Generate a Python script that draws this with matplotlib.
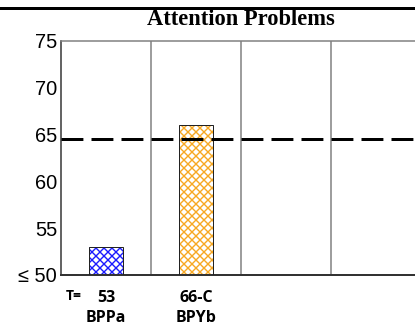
import matplotlib.pyplot as plt
from matplotlib.lines import Line2D

# data
categories = ["BPPa", "BPYb"]
values = [53, 66]
t_labels = ["53", "66-C"]
n_columns = 4
cutoff = 64.5
y_ticks = [50, 55, 60, 65, 70, 75]
y_tick_labels = ["\u2264 50", "55", "60", "65", "70", "75"]
bar_colors = ["#1a1aff", "#f7a823"]

plt.rcParams['hatch.linewidth'] = 1.4

fig = plt.figure(figsize=(415 / 72, 326 / 72), dpi=72)
ax = fig.add_axes([61 / 415, 1 - 275 / 326, 360 / 415, 234 / 326])

x = [i + 0.5 for i in range(len(values))]
base = y_ticks[0]
heights = [v - base for v in values]
# hatched fill, then a thin dark outline on top
ax.bar(x, heights, bottom=base, width=0.37, color="white",
       edgecolor=bar_colors, hatch="xxx", linewidth=0, zorder=2)
ax.bar(x, heights, bottom=base, width=0.37, fill=False,
       edgecolor="#222222", linewidth=1.0, zorder=3)

# column separators
for i in range(1, n_columns):
    ax.axvline(i, color="#7f7f7f", linewidth=1.5, zorder=1)

ax.axhline(cutoff, color="black", linewidth=3, dashes=(7.3, 2.7), zorder=4)

ax.set_xlim(0, n_columns)
ax.set_ylim(y_ticks[0], y_ticks[-1])
ax.set_xticks([])
ax.set_yticks(y_ticks)
ax.set_yticklabels(y_tick_labels, fontsize=20, family="Liberation Sans")
ax.tick_params(axis="y", length=0, pad=4)

ax.spines["left"].set_color("#333333")
ax.spines["left"].set_linewidth(1.5)
ax.spines["bottom"].set_color("#333333")
ax.spines["bottom"].set_linewidth(2)
ax.spines["top"].set_color("#7f7f7f")
ax.spines["top"].set_linewidth(1.5)
ax.spines["right"].set_visible(False)

ax.set_title("Attention Problems", fontsize=22.5, fontweight="bold",
             family="Liberation Serif", pad=16)

tr = ax.get_xaxis_transform()
ax.text(0.145, -0.088, "T=", transform=tr, ha="center", va="center",
        fontsize=14, fontweight="bold", family="Open Sans")
for xi, t, c in zip(x, t_labels, categories):
    ax.text(xi, -0.098, t, transform=tr, ha="center", va="center",
            fontsize=16, fontweight="bold", family="Open Sans")
    ax.text(xi, -0.182, c, transform=tr, ha="center", va="center",
            fontsize=16, fontweight="bold", family="Open Sans")

# heavy rule across the top of the page
fig.add_artist(Line2D([0, 1], [1 - 8 / 326, 1 - 8 / 326], color="black",
                      linewidth=3, transform=fig.transFigure))

fig.savefig("out.png", dpi=72)
